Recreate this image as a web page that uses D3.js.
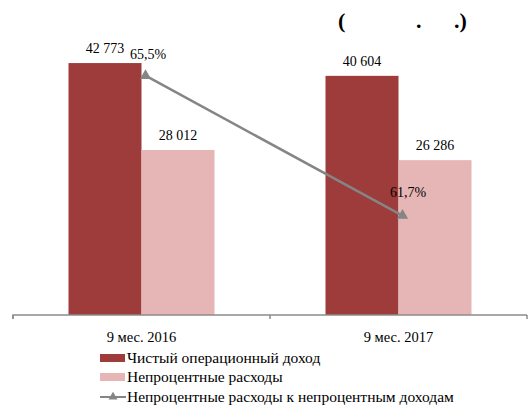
<!DOCTYPE html>
<html><head><meta charset="utf-8">
<script src="https://cdn.jsdelivr.net/npm/d3@7"></script>
<style>body{margin:0;background:#fff;} svg{display:block;} text{font-family:"Liberation Serif","DejaVu Serif",serif;}</style>
</head><body>
<script>
const categories = ["9 мес. 2016", "9 мес. 2017"];
const netIncome = [42773, 40604];
const nonInterestExp = [28012, 26286];
const ratio = [65.5, 61.7];
const seriesNames = ["Чистый операционный доход", "Непроцентные расходы", "Непроцентные расходы к непроцентным доходам"];
const colors = ["#9e3b3b", "#e6b5b5", "#858585"];

const W = 530, H = 405;
const svg = d3.select("body").append("svg").attr("width", W).attr("height", H);
const FS = 14;

const x = d3.scaleBand().domain(categories).range([13, 527]);
const y = d3.scaleLinear().domain([0, 50000]).range([315, 20.5]);
const y2 = d3.scaleLinear().domain([59, 67]).range([315, 20.5]);
const barW = 73;

const fmt = v => d3.format(",")(v).replace(/,/g, " ");

categories.forEach((c, i) => {
  const cx = x(c) + x.bandwidth() / 2;
  svg.append("rect").attr("x", cx - barW).attr("width", barW)
    .attr("y", y(netIncome[i])).attr("height", y(0) - y(netIncome[i])).attr("fill", colors[0]);
  svg.append("rect").attr("x", cx).attr("width", barW)
    .attr("y", y(nonInterestExp[i])).attr("height", y(0) - y(nonInterestExp[i])).attr("fill", colors[1]);
  svg.append("text").attr("x", cx - barW / 2).attr("y", y(netIncome[i]) - 10)
    .attr("text-anchor", "middle").attr("font-size", FS).text(fmt(netIncome[i]));
  svg.append("text").attr("x", cx + barW / 2).attr("y", y(nonInterestExp[i]) - 10)
    .attr("text-anchor", "middle").attr("font-size", FS).text(fmt(nonInterestExp[i]));
});

// axis
const axis = d3.axisBottom(x).tickSize(0).tickFormat("");
const gx = svg.append("g").attr("transform", "translate(0,315)").call(axis);
gx.select(".domain").attr("stroke", "#8c8c8c").attr("stroke-width", 1.5).attr("d", "M13,4V0H527");
[13, x(categories[1]), 527].forEach(t => {
  gx.append("line").attr("x1", t).attr("x2", t).attr("y1", 0).attr("y2", 4).attr("stroke", "#8c8c8c").attr("stroke-width", 1.5);
});
categories.forEach(c => {
  svg.append("text").attr("x", x(c) + x.bandwidth() / 2).attr("y", 342)
    .attr("text-anchor", "middle").attr("font-size", 14.5).text(c);
});

// line series
const px = (c) => x(c) + x.bandwidth() / 2 + 4;
const line = d3.line().x((d, i) => px(categories[i])).y(d => y2(d));
svg.append("path").datum(ratio).attr("d", line).attr("fill", "none")
  .attr("stroke", colors[2]).attr("stroke-width", 2.5);
const tri = d3.symbol().type(d3.symbolTriangle).size(55);
ratio.forEach((v, i) => {
  svg.append("path").attr("d", tri).attr("transform", `translate(${px(categories[i])},${y2(v)})`)
    .attr("fill", colors[2]);
});
const ratioLabelPos = [[148, 59], [408, 197]];
ratio.forEach((v, i) => {
  svg.append("text").attr("x", ratioLabelPos[i][0]).attr("y", ratioLabelPos[i][1])
    .attr("text-anchor", "middle").attr("font-size", FS)
    .text(String(v).replace(".", ",") + "%");
});

// title (unit, glyphs missing in source)
const title = svg.append("text").attr("y", 28).attr("font-size", 22).attr("font-weight", "bold");
title.append("tspan").attr("x", 338).text("(");
title.append("tspan").attr("x", 416).text(".");
title.append("tspan").attr("x", 454).text(".)");

// legend
const lg = svg.append("g");
const rows = [358, 377, 397];
seriesNames.forEach((n, i) => {
  if (i < 2) {
    lg.append("rect").attr("x", 100).attr("y", rows[i] - 4).attr("width", 25).attr("height", 8).attr("fill", colors[i]);
  } else {
    lg.append("line").attr("x1", 100).attr("x2", 126).attr("y1", rows[i]).attr("y2", rows[i]).attr("stroke", colors[2]).attr("stroke-width", 2);
    lg.append("path").attr("d", d3.symbol().type(d3.symbolTriangle).size(35)).attr("transform", `translate(113,${rows[i]})`).attr("fill", colors[2]);
  }
  lg.append("text").attr("x", 127).attr("y", rows[i] + 5).attr("font-size", 15.5).text(n);
});
</script>
</body></html>
